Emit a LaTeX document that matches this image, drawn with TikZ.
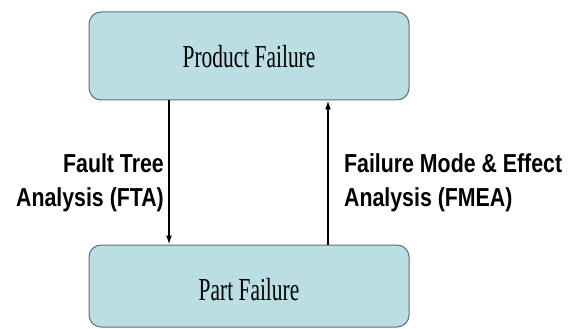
\documentclass[tikz,border=0pt]{standalone}
\usepackage{fontspec}
\setmainfont{Liberation Serif}
\newfontfamily\labelfont{Liberation Sans}
\usetikzlibrary{arrows.meta}
\definecolor{boxfill}{RGB}{187,222,228}
\definecolor{boxline}{RGB}{95,110,115}
\tikzset{
  failbox/.style={draw=boxline, line width=1pt, fill=boxfill, rounded corners=12pt,
    minimum width=320pt, inner sep=0pt},
  boxtext/.style={xscale=0.67, transform shape, font=\fontsize{32}{36}\selectfont},
  flow/.style={line width=1.5pt, -{Latex[length=9pt,width=6pt]}},
  method/.style={font=\labelfont\bfseries\fontsize{26}{34}\selectfont, inner sep=0pt,
    xscale=0.82, transform shape}
}
\begin{document}
\begin{tikzpicture}[x=1pt,y=-1pt]
\useasboundingbox (0,0) rectangle (571,329);
\node[failbox, minimum height=88pt] (prod) at (249,56) {};
\node[boxtext] (prodt) at (249,57) {Product Failure};
\node[failbox, minimum height=82pt] (part) at (249,286) {};
\node[boxtext] (partt) at (249,290) {Part Failure};
\draw[flow] ([xshift=-80pt]prod.south) -- ([xshift=-80pt]part.north);
\draw[flow] ([xshift=79pt]part.north) -- ([xshift=79pt]prod.south);
\node[method, anchor=north east, align=right] (fta) at (164,153) {Fault Tree\\Analysis (FTA)};
\node[method, anchor=north west, align=left] (fmea) at (344,153) {Failure Mode \& Effect\\Analysis (FMEA)};
\end{tikzpicture}
\end{document}
